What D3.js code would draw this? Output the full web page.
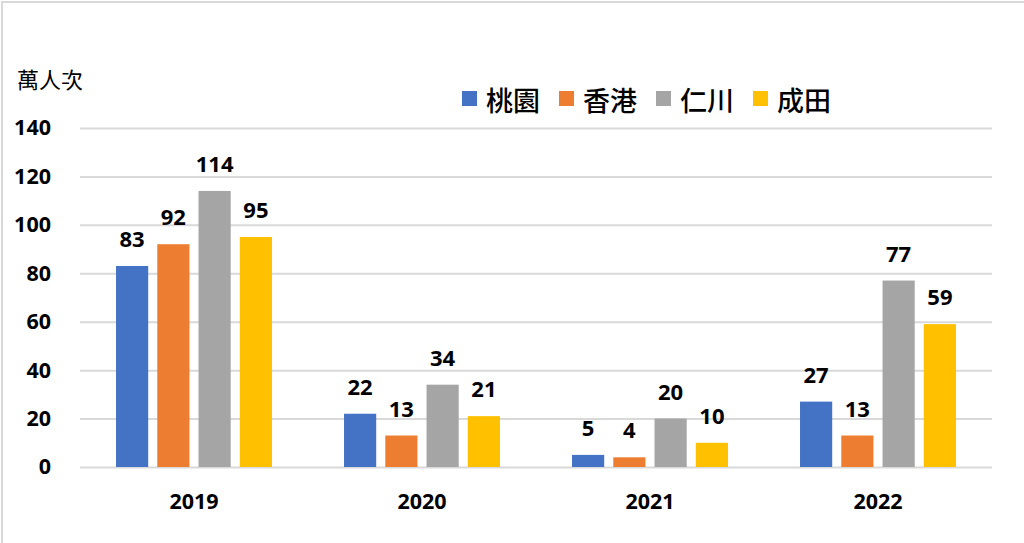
<!DOCTYPE html>
<html>
<head>
<meta charset="utf-8">
<script src="https://cdn.jsdelivr.net/npm/d3@7"></script>
<style>
  html, body { margin: 0; padding: 0; background: #fff; }
  svg { display: block; }
</style>
</head>
<body>
<div id="chart"></div>
<script>
// data
const years = ["2019", "2020", "2021", "2022"];
const airports = ["桃園", "香港", "仁川", "成田"];
const taoyuan = [83, 22, 5, 27];
const hongkong = [92, 13, 4, 13];
const incheon = [114, 34, 20, 77];
const narita = [95, 21, 10, 59];
const yTicks = [0, 20, 40, 60, 80, 100, 120, 140];
const unitLabel = "萬人次";

const colors = ["#4472C4", "#ED7D31", "#A5A5A5", "#FFC000"];
const seriesValues = [taoyuan, hongkong, incheon, narita];

const width = 1024, height = 543;
const plotLeft = 80, plotRight = 992, plotTop = 128, plotBottom = 467;
const numFont = "'Open Sans', 'DejaVu Sans', sans-serif";
const cjkFont = "'Noto Sans CJK TC', 'Noto Sans CJK SC', sans-serif";

const svg = d3.select("#chart")
    .append("svg")
    .attr("width", width)
    .attr("height", height);

// outer frame (only the top and left edges show)
svg.append("rect")
    .attr("x", 2).attr("y", 2)
    .attr("width", width + 20).attr("height", height + 20)
    .attr("fill", "none")
    .attr("stroke", "#D9D9D9")
    .attr("stroke-width", 2);

const x0 = d3.scaleBand()
    .domain(years)
    .range([plotLeft, plotRight])
    .paddingInner(0.316)
    .paddingOuter(0.158);

const x1 = d3.scaleBand()
    .domain(airports)
    .range([0, x0.bandwidth()])
    .paddingInner(0.22);

const y = d3.scaleLinear()
    .domain([0, 140])
    .range([plotBottom, plotTop]);

// y axis with gridlines
const yAxis = svg.append("g")
    .attr("transform", `translate(${plotLeft},0)`)
    .call(d3.axisLeft(y)
        .tickValues(yTicks)
        .tickSize(-(plotRight - plotLeft))
        .tickPadding(29));
yAxis.select(".domain").remove();
yAxis.selectAll(".tick line")
    .attr("stroke", "#D9D9D9")
    .attr("stroke-width", 2);
yAxis.selectAll(".tick text")
    .attr("fill", "#000")
    .style("font-family", numFont)
    .style("font-weight", "bold")
    .style("font-size", "21.5px");

// x axis labels
const xAxis = svg.append("g")
    .attr("transform", `translate(0,${plotBottom})`)
    .call(d3.axisBottom(x0).tickSize(0).tickPadding(27));
xAxis.select(".domain").remove();
xAxis.selectAll(".tick text")
    .attr("fill", "#000")
    .style("font-family", numFont)
    .style("font-weight", "bold")
    .style("font-size", "21.5px");

// flatten into bar records
const bars = [];
years.forEach((yr, i) => {
    airports.forEach((ap, j) => {
        bars.push({ year: yr, airport: ap, value: seriesValues[j][i], color: colors[j] });
    });
});

const groups = svg.append("g");

groups.selectAll("rect")
    .data(bars)
    .join("rect")
    .attr("x", d => x0(d.year) + x1(d.airport))
    .attr("y", d => y(d.value))
    .attr("width", x1.bandwidth())
    .attr("height", d => plotBottom - y(d.value))
    .attr("fill", d => d.color);

groups.selectAll("text")
    .data(bars)
    .join("text")
    .attr("x", d => x0(d.year) + x1(d.airport) + x1.bandwidth() / 2)
    .attr("y", d => y(d.value) - 19)
    .attr("text-anchor", "middle")
    .style("font-family", numFont)
    .style("font-weight", "bold")
    .style("font-size", "22px")
    .text(d => d.value);

// unit label
svg.append("text")
    .attr("x", 17)
    .attr("y", 78)
    .attr("dominant-baseline", "central")
    .style("font-family", cjkFont)
    .style("font-size", "22px")
    .text(unitLabel);

// legend
const legend = svg.append("g")
    .selectAll("g")
    .data(airports)
    .join("g")
    .attr("transform", (d, i) => `translate(${462 + i * 97},99)`);

legend.append("rect")
    .attr("x", 0).attr("y", -8)
    .attr("width", 15).attr("height", 15)
    .attr("fill", (d, i) => colors[i]);

legend.append("text")
    .attr("x", 24)
    .attr("y", 0)
    .attr("dominant-baseline", "central")
    .style("font-family", cjkFont)
    .style("font-weight", 500)
    .style("font-size", "27px")
    .text(d => d);
</script>
</body>
</html>
